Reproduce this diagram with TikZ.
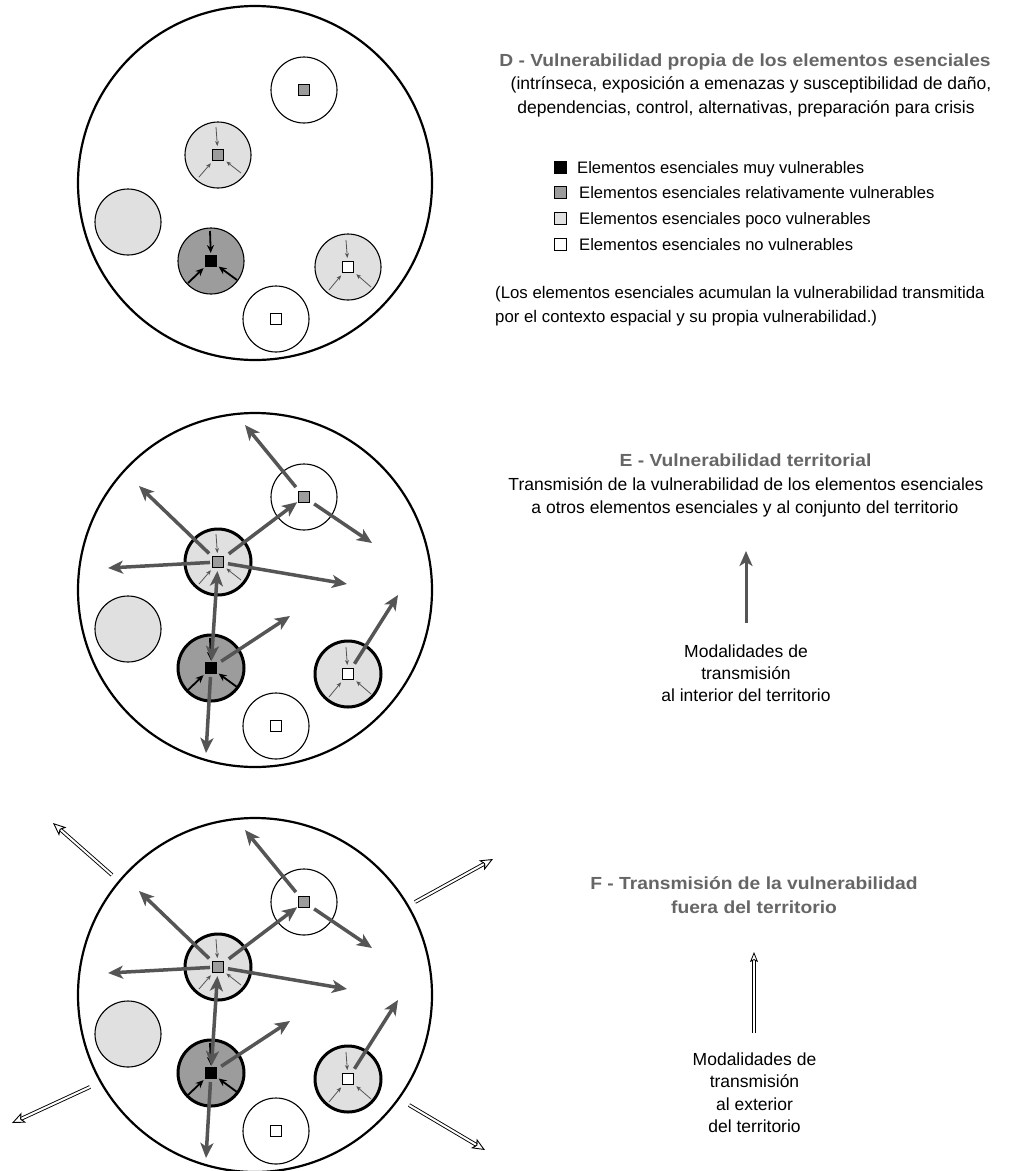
\documentclass[tikz,border=0pt]{standalone}
\usepackage{fontspec}
\setmainfont{Liberation Sans}
\newfontfamily\tfont{Liberation Sans}[FakeStretch=1.1]
\usetikzlibrary{arrows.meta,calc}
\definecolor{lg}{HTML}{E0E0E0}
\definecolor{mg}{HTML}{9C9C9C}
\definecolor{ag}{HTML}{555555}
\definecolor{tg}{HTML}{666666}
\newcommand\drawcluster[3]{%
 \begin{scope}[shift={(0,#2)}]
  \node[big] (#1big) at (255,183) {};
  \node[sub] (#1c1) at (304,90) {};
  \node[sub,fill=lg,#3] (#1c2) at (218,155) {};
  \node[sub,fill=lg] (#1c3) at (128,222) {};
  \node[sub,fill=mg,#3] (#1c4) at (211,261) {};
  \node[sub,fill=lg,#3] (#1c5) at (348,267) {};
  \node[sub] (#1c6) at (276,319) {};
  \node[sq,fill=mg] (#1s1) at (304,90) {};
  \node[sq,fill=mg] (#1s2) at (218,155) {};
  \node[sq,fill=black] (#1s4) at (211,261) {};
  \node[sq,fill=white] (#1s5) at (348,267) {};
  \node[sq,fill=white] (#1s6) at (276,319) {};
  \coordinate (#1t21) at (216,127);
  \coordinate (#1t22) at (199,177);
  \coordinate (#1t23) at (241,173);
  \coordinate (#1t41) at (210,231);
  \coordinate (#1t42) at (188,283);
  \coordinate (#1t43) at (237,280);
  \coordinate (#1t51) at (346,240);
  \coordinate (#1t52) at (329,290);
  \coordinate (#1t53) at (371,287);
  \draw[inthin] (#1t21) -- (#1s2);
  \draw[inthin] (#1t22) -- (#1s2);
  \draw[inthin] (#1t23) -- (#1s2);
  \draw[inthick] (#1t41) -- (#1s4);
  \draw[inthick] (#1t42) -- (#1s4);
  \draw[inthick] (#1t43) -- (#1s4);
  \draw[inthin] (#1t51) -- (#1s5);
  \draw[inthin] (#1t52) -- (#1s5);
  \draw[inthin] (#1t53) -- (#1s5);
 \end{scope}}
\newcommand\drawspread[2]{%
 \begin{scope}[shift={(0,#2)}]
  \coordinate (#1p1) at (245,18);
  \coordinate (#1p2) at (372,136);
  \coordinate (#1p4) at (139,79);
  \coordinate (#1p5) at (108,161);
  \coordinate (#1p6) at (347,177);
  \coordinate (#1p8) at (290,209);
  \coordinate (#1p9) at (206,346);
  \coordinate (#1p10) at (398,188);
  \draw[garrow,shorten <=5pt] (#1s1) -- (#1p1);
  \draw[garrow,shorten <=5pt] (#1s1) -- (#1p2);
  \draw[garrow,shorten <=6pt,shorten >=1pt] (#1s2) -- (#1s1);
  \draw[garrow,shorten <=4pt] (#1s2) -- (#1p4);
  \draw[garrow,shorten <=2pt] (#1s2) -- (#1p5);
  \draw[garrow,shorten <=4pt] (#1s2) -- (#1p6);
  \draw[garrow,{Stealth[length=15pt,width=13pt,inset=4pt]}-{Stealth[length=15pt,width=13pt,inset=4pt]},shorten <=3pt,shorten >=1pt] (#1s2) -- (#1s4);
  \draw[garrow,shorten <=5pt] (#1s4) -- (#1p8);
  \draw[garrow,shorten <=3pt] (#1s4) -- (#1p9);
  \draw[garrow,shorten <=5pt] (#1s5) -- (#1p10);
 \end{scope}}
\begin{document}
\begin{tikzpicture}[x=1pt,y=-1pt,
  big/.style={circle,draw,line width=2.2pt,minimum size=354pt,inner sep=0pt},
  sub/.style={circle,draw,line width=1.1pt,minimum size=66pt,inner sep=0pt},
  bold sub/.style={line width=3pt},
  sq/.style={draw,line width=1pt,minimum size=11pt,inner sep=0pt},
  inthin/.style={draw=ag,line width=0.8pt,-{Stealth[length=5pt,width=4pt]},shorten >=3pt},
  inthick/.style={draw=black,line width=1.8pt,-{Stealth[length=8pt,width=7pt]},shorten >=2pt},
  garrow/.style={draw=ag,line width=3.5pt,-{Stealth[length=15pt,width=13pt,inset=4pt]}},
  oarrow/.style={double,double distance=2pt,line width=0.9pt,-{Stealth[open,length=13pt,width=11pt,inset=3pt]}},
  txt/.style={anchor=base,inner sep=0pt,font=\fontsize{17.5}{21}\selectfont},
  ttl/.style={anchor=base,inner sep=0pt,text=tg,font=\tfont\bfseries\fontsize{17.5}{21}\selectfont},
  lsq/.style={draw,line width=1pt,minimum size=12pt,inner sep=0pt}
]
\useasboundingbox (0,0) rectangle (1020,1171);
\fill[white] (0,0) rectangle (1020,1171);
% D
\drawcluster{D}{0}{}
\node[ttl] (Dt1) at (745,66) {D - Vulnerabilidad propia de los elementos esenciales};
\node[txt] (Dt2) at (751,89.5) {(intrínseca, exposición a emenazas y susceptibilidad de daño,};
\node[txt] (Dt3) at (746,113) {dependencias, control, alternativas, preparación para crisis};
\node[lsq,fill=black] (L1) at (560,167) {};
\node[lsq,fill=mg] (L2) at (560,192) {};
\node[lsq,fill=lg] (L3) at (560,218) {};
\node[lsq,fill=white] (L4) at (560,244) {};
\node[txt,anchor=base west,font=\fontsize{16.6}{20}\selectfont] (Lt1) at (577,173) {Elementos esenciales muy vulnerables};
\node[txt,anchor=base west,font=\fontsize{16.6}{20}\selectfont] (Lt2) at (579,198.5) {Elementos esenciales relativamente vulnerables};
\node[txt,anchor=base west,font=\fontsize{16.6}{20}\selectfont] (Lt3) at (579,224.5) {Elementos esenciales poco vulnerables};
\node[txt,anchor=base west,font=\fontsize{16.6}{20}\selectfont] (Lt4) at (579,250) {Elementos esenciales no vulnerables};
\node[txt,anchor=base west,font=\fontsize{16.8}{20}\selectfont] (Dn1) at (495,298) {(Los elementos esenciales acumulan la vulnerabilidad transmitida};
\node[txt,anchor=base west,font=\fontsize{16.8}{20}\selectfont] (Dn2) at (495,322.5) {por el contexto espacial y su propia vulnerabilidad.)};
% E
\drawcluster{E}{407}{bold sub}
\drawspread{E}{407}
\node[ttl] (Et1) at (745.5,466.5) {E - Vulnerabilidad territorial};
\node[txt] (Et2) at (746,490) {Transmisión de la vulnerabilidad de los elementos esenciales};
\node[txt] (Et3) at (745,513) {a otros elementos esenciales y al conjunto del territorio};
\coordinate (Ea0) at (746,623);
\coordinate (Ea1) at (746,551);
\draw[garrow,line width=3pt] (Ea0) -- (Ea1);
\node[txt] (Em1) at (746,657) {Modalidades de};
\node[txt] (Em2) at (746,679) {transmisión};
\node[txt] (Em3) at (746,701.5) {al interior del territorio};
% F
\drawcluster{F}{812}{bold sub}
\drawspread{F}{812}
\coordinate (Fo1a) at (112,875); \coordinate (Fo1b) at (53,823);
\coordinate (Fo2a) at (415,902); \coordinate (Fo2b) at (493,859);
\coordinate (Fo3a) at (90,1087); \coordinate (Fo3b) at (12,1123);
\coordinate (Fo4a) at (409,1105); \coordinate (Fo4b) at (485,1150);
\draw[oarrow] (Fo1a) -- (Fo1b);
\draw[oarrow] (Fo2a) -- (Fo2b);
\draw[oarrow] (Fo3a) -- (Fo3b);
\draw[oarrow] (Fo4a) -- (Fo4b);
\node[ttl] (Ft1) at (754,889) {F - Transmisión de la vulnerabilidad};
\node[ttl] (Ft2) at (754,913) {fuera del territorio};
\coordinate (Fa0) at (754,1033);
\coordinate (Fa1) at (754,952);
\draw[oarrow,double distance=1.6pt,line width=0.8pt,-{Stealth[open,length=10pt,width=8pt,inset=2pt]}] (Fa0) -- (Fa1);
\node[txt] (Fm1) at (754.5,1065) {Modalidades de};
\node[txt] (Fm2) at (754.5,1087) {transmisión};
\node[txt] (Fm3) at (754.5,1110) {al exterior};
\node[txt] (Fm4) at (754.5,1132) {del territorio};
\end{tikzpicture}
\end{document}
